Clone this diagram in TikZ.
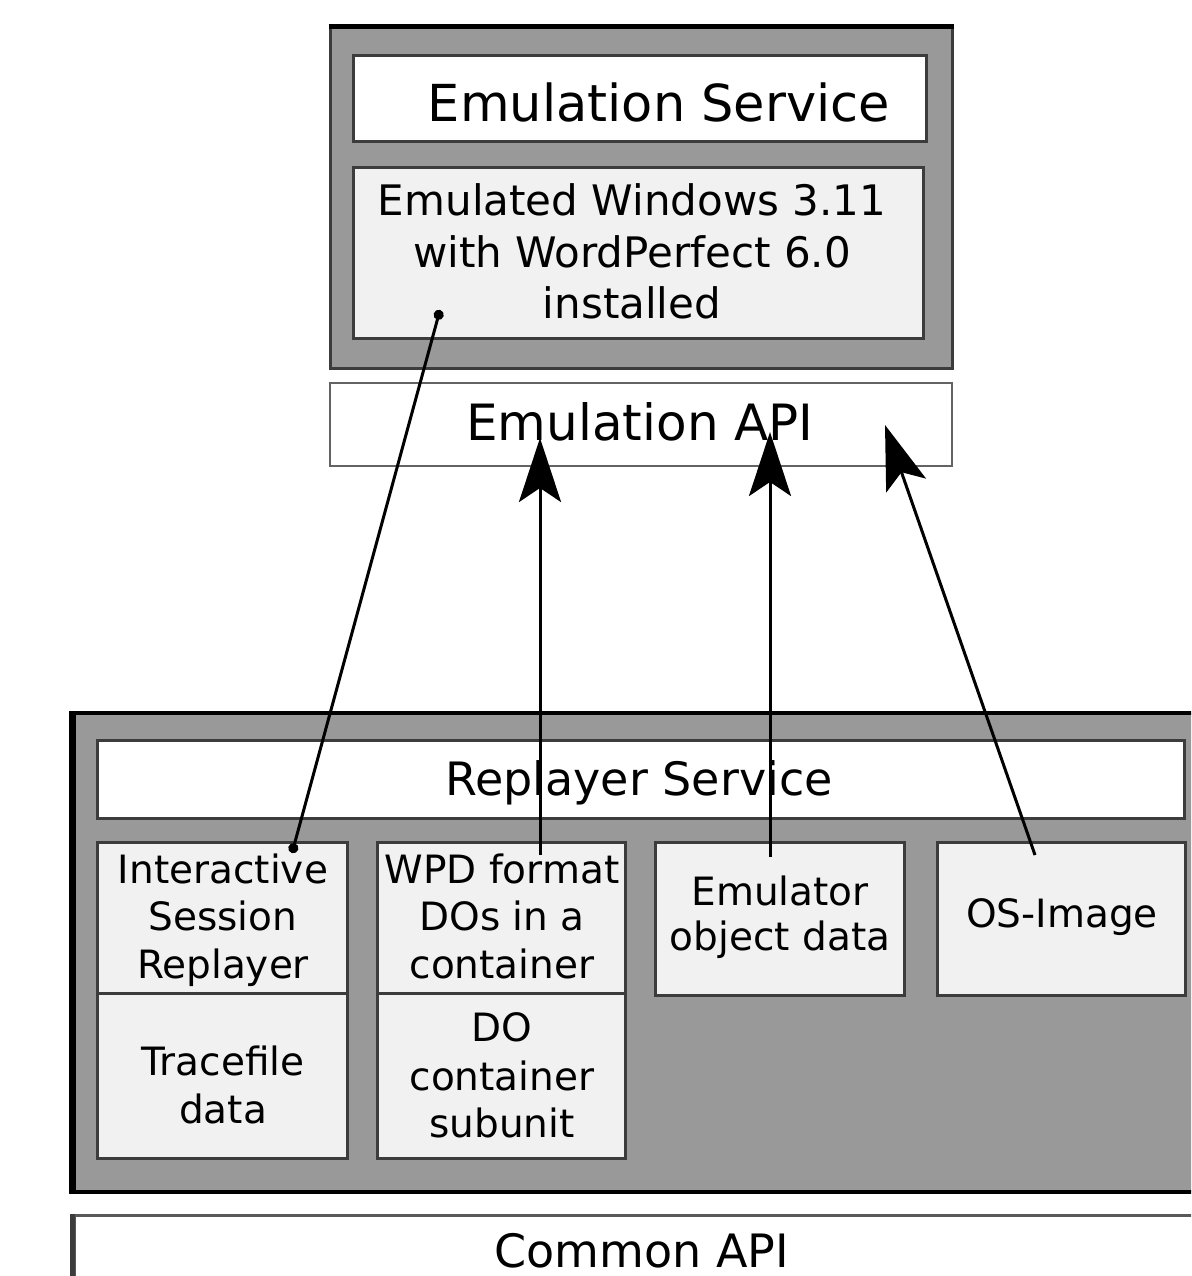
\documentclass[tikz,border=0pt]{standalone}
\usepackage{fontspec}
\setmainfont{DejaVu Sans}
\usetikzlibrary{arrows.meta}
\definecolor{outergray}{HTML}{999999}
\definecolor{lightbox}{HTML}{F1F1F1}
\definecolor{boxline}{HTML}{3C3C3C}
\tikzset{
  outerbox/.style={draw=black, fill=outergray, line width=4pt, inner sep=0pt},
  whitebox/.style={draw=boxline, fill=white, line width=3pt, inner sep=0pt},
  greybox/.style={draw=boxline, fill=lightbox, line width=3pt, inner sep=0pt},
  bigtxt/.style={anchor=base, inner sep=0pt, font=\fontsize{51}{60}\selectfont},
  apitxt/.style={anchor=base, inner sep=0pt, font=\fontsize{50}{58}\selectfont},
  midtxt/.style={anchor=base, inner sep=0pt, font=\fontsize{42}{50}\selectfont},
  reptxt/.style={anchor=base, inner sep=0pt, font=\fontsize{46}{54}\selectfont},
  smalltxt/.style={anchor=base, inner sep=0pt, font=\fontsize{39}{46}\selectfont},
  conn/.style={line width=3pt, draw=black},
  bigarrow/.style={conn, -{Stealth[length=64pt,width=42pt,inset=14pt]}},
  dotline/.style={conn, {Circle[length=10pt]}-{Circle[length=10pt]}}
}
\begin{document}
\begin{tikzpicture}[x=1pt,y=-1pt]
\clip (0,0) rectangle (1191,1276);
\fill[white] (0,0) rectangle (1191,1276);

% Emulation service block
\node[outerbox, draw=boxline, line width=3pt, minimum width=622pt, minimum height=340pt] (esout) at (641,198) {};
\draw[black, line width=5pt] (esout.north west) -- (esout.north east);
\node[whitebox, minimum width=573pt, minimum height=86pt] (estitle) at (639.5,99) {};
\node[bigtxt] (estitletxt) at (659,122) {Emulation Service};
\node[greybox, minimum width=570pt, minimum height=170pt] (emuwin) at (638,253) {};
\node[midtxt] (emuwin1) at (632,215) {Emulated Windows 3.11};
\node[midtxt] (emuwin2) at (632,267) {with WordPerfect 6.0};
\node[midtxt] (emuwin3) at (632,318) {installed};

% Emulation API
\node[whitebox, draw=boxline!80, line width=2.5pt, minimum width=622pt, minimum height=83pt] (api) at (641,424.5) {};
\node[apitxt] (apitxt) at (640,440) {Emulation API};

% Replayer block
\node[outerbox, minimum width=1136pt, minimum height=479pt] (repout) at (642,952.5) {};
\draw[black, line width=6pt] (repout.north west) -- (repout.south west);
\node[whitebox, minimum width=1087pt, minimum height=78pt] (reptitle) at (640.5,779) {};
\node[reptxt] (reptitletxt) at (639,795) {Replayer Service};

\node[greybox, minimum width=250pt, minimum height=151pt] (isr) at (222,917.5) {};
\node[greybox, minimum width=250pt, minimum height=165pt] (trace) at (222,1075.5) {};
\node[greybox, minimum width=248pt, minimum height=151pt] (wpd) at (501,917.5) {};
\node[greybox, minimum width=248pt, minimum height=165pt] (docont) at (501,1075.5) {};
\node[greybox, minimum width=249pt, minimum height=153pt] (emuobj) at (779.5,918.5) {};
\node[greybox, minimum width=248pt, minimum height=153pt] (osimg) at (1061,918.5) {};

\node[smalltxt] (isr1) at (223,883) {Interactive};
\node[smalltxt] (isr2) at (223,930) {Session};
\node[smalltxt] (isr3) at (223,978) {Replayer};
\node[smalltxt] (trace1) at (223,1075) {Tracefile};
\node[smalltxt] (trace2) at (223,1123) {data};
\node[smalltxt] (wpd1) at (502,883) {WPD format};
\node[smalltxt] (wpd2) at (502,930) {DOs in a};
\node[smalltxt] (wpd3) at (502,978) {container};
\node[smalltxt] (docont1) at (502,1041) {DO};
\node[smalltxt] (docont2) at (502,1090) {container};
\node[smalltxt] (docont3) at (502,1137) {subunit};
\node[smalltxt] (emuobj1) at (780,905) {Emulator};
\node[smalltxt] (emuobj2) at (780,950) {object data};
\node[smalltxt] (osimg1) at (1062,927) {OS-Image};

% Common API
\node[whitebox, draw=boxline!85, minimum width=1136pt, minimum height=85pt] (common) at (642,1257.5) {};
\draw[boxline, line width=5pt] (common.north west) -- (common.south west);
\node[anchor=base, inner sep=0pt, font=\fontsize{46}{54}\selectfont] (commontxt) at (642,1267) {Common API};

% connector end points
\coordinate (c1a) at (292,853);
\coordinate (c1b) at (440,310);
\coordinate (c2a) at (540,855);
\coordinate (c2b) at (540,438);
\coordinate (c3a) at (770,857);
\coordinate (c3b) at (770,432);
\coordinate (c4a) at (1035,855);
\coordinate (c4b) at (885,425);

\draw[dotline] (c1a) -- (c1b);
\draw[bigarrow] (c2a) -- (c2b);
\draw[bigarrow] (c3a) -- (c3b);
\draw[bigarrow] (c4a) -- (c4b);
\end{tikzpicture}
\end{document}
